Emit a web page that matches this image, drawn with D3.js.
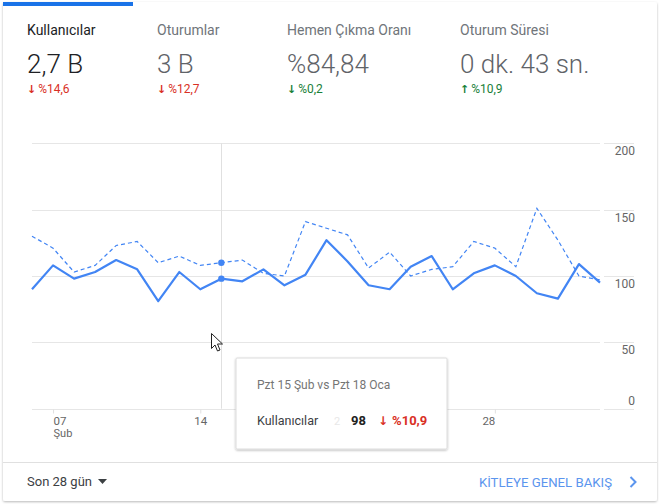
<!DOCTYPE html>
<html>
<head>
<meta charset="utf-8">
<script src="https://cdn.jsdelivr.net/npm/d3@7"></script>
<style>
  body { margin: 0; background: #fff; }
  svg { display: block; font-family: Roboto, "Noto Sans", sans-serif; }
</style>
</head>
<body>
<svg></svg>
<script>
// ---- data ----
const days = ["06 Şub","07 Şub","08 Şub","09 Şub","10 Şub","11 Şub","12 Şub","13 Şub","14 Şub",
  "15 Şub","16 Şub","17 Şub","18 Şub","19 Şub","20 Şub","21 Şub","22 Şub","23 Şub","24 Şub",
  "25 Şub","26 Şub","27 Şub","28 Şub","01 Mar","02 Mar","03 Mar","04 Mar","05 Mar"];
const current = [90,108,98,103,112,105,81,103,90,98,96,105,93,101,127,111,93,90,107,115,90,102,108,100,87,83,109,95];
const previous = [130,121,103,108,123,126,110,115,108,110,112,102,100,141,136,131,106,118,100,105,107,126,121,107,151,127,100,97];
const yTicks = [0, 50, 100, 150, 200];
const xTicks = ["07 Şub", "14 Şub", "21 Şub", "28 Şub"];

const metricNames = ["Kullanıcılar", "Oturumlar", "Hemen Çıkma Oranı", "Oturum Süresi"];
const metricValues = ["2,7 B", "3 B", "%84,84", "0 dk. 43 sn."];
const metricChanges = ["%14,6", "%12,7", "%0,2", "%10,9"];
const metricDown = [true, true, true, false];
const metricGood = [false, false, true, true];

const hoverIndex = 9;
const tipTitle = "Pzt 15 Şub vs Pzt 18 Oca";
const tipMetric = "Kullanıcılar";
const tipChange = "%10,9";

const size = {w: 664, h: 504};
const blue = '#4285f4', red = '#d93025', green = '#188038';

const svg = d3.select('svg').attr('width', size.w).attr('height', size.h);

// shadow filter
const defs = svg.append('defs');
const f = defs.append('filter').attr('id', 'shadow').attr('x', '-10%').attr('y', '-10%').attr('width', '120%').attr('height', '130%');
f.append('feDropShadow').attr('dx', 0).attr('dy', 1).attr('stdDeviation', 1.2).attr('flood-color', '#000').attr('flood-opacity', 0.28);

// card
svg.append('rect')
  .attr('x', 3).attr('y', 2).attr('width', 654).attr('height', 499).attr('rx', 2)
  .attr('fill', '#fff').attr('filter', 'url(#shadow)');
svg.append('rect')
  .attr('x', 3).attr('y', 2).attr('width', 130).attr('height', 4).attr('fill', '#1a73e8');

// ---- metrics header ----
const colX = [27, 157, 287, 460];
const metricG = svg.append('g').selectAll('g')
  .data(metricNames)
  .join('g')
  .attr('transform', (d, i) => `translate(${colX[i]},0)`);

metricG.append('text')
  .attr('y', 35)
  .attr('font-size', 14)
  .attr('fill', (d, i) => i === 0 ? '#202124' : '#70757a')
  .text(d => d);

metricG.append('text')
  .attr('y', 73)
  .attr('font-size', 26)
  .attr('font-weight', 300)
  .attr('fill', (d, i) => i === 0 ? '#202124' : '#5f6368')
  .text((d, i) => metricValues[i]);

const chg = metricG.append('text')
  .attr('y', 93)
  .attr('font-size', 12)
  .attr('fill', (d, i) => metricGood[i] ? green : red);
chg.append('tspan')
  .attr('font-family', 'DejaVu Sans')
  .attr('font-weight', 'bold')
  .attr('font-size', 11)
  .text((d, i) => metricDown[i] ? '↓' : '↑');
chg.append('tspan')
  .attr('dx', 2)
  .text((d, i) => metricChanges[i]);

// ---- chart ----
const x = d3.scalePoint().domain(days).range([32, 600]);
const y = d3.scaleLinear().domain([0, 200]).range([408.7, 143.3]);

// tooltip box position (the tooltip hides what is under it)
const tipBox = {x: 236, y: 358, w: 211, h: 91};

// gridlines
const grid = svg.append('g').attr('stroke', '#e6e6e6').attr('stroke-width', 1);
grid.selectAll('line.g')
  .data(yTicks)
  .join('line').classed('g', true)
  .attr('x1', 32).attr('x2', 600)
  .attr('y1', d => Math.round(y(d)) + 0.5).attr('y2', d => Math.round(y(d)) + 0.5);
grid.selectAll('line.s')
  .data(yTicks)
  .join('line').classed('s', true)
  .attr('x1', 604).attr('x2', 634)
  .attr('y1', d => Math.round(y(d)) + 0.5).attr('y2', d => Math.round(y(d)) + 0.5);

// y axis labels (right)
const yAxis = svg.append('g')
  .attr('transform', 'translate(635,0)')
  .call(d3.axisRight(y).tickValues(yTicks).tickSize(0));
yAxis.select('.domain').remove();
yAxis.selectAll('text')
  .attr('x', 0)
  .attr('text-anchor', 'end')
  .attr('dy', d => d === 0 ? '-0.35em' : '0.95em')
  .attr('font-size', 12)
  .attr('font-family', 'Roboto')
  .attr('fill', '#666');

// x axis
const xAxis = svg.append('g')
  .attr('transform', 'translate(0,' + (Math.round(y(0)) + 0.5) + ')')
  .call(d3.axisBottom(x).tickValues(xTicks).tickSize(4).tickPadding(3).tickFormat(d => d.slice(0, 2)));
xAxis.select('.domain').remove();
xAxis.selectAll('line').attr('stroke', '#e0e0e0');
xAxis.selectAll('text')
  .attr('font-size', 11.5)
  .attr('font-family', 'Roboto')
  .attr('fill', '#666')
  .attr('text-anchor', (d, i) => i === 0 ? 'start' : (i === xTicks.length - 1 ? 'end' : 'middle'));
// labels under the tooltip are not visible
xAxis.selectAll('.tick')
  .filter(d => x(d) > tipBox.x && x(d) < tipBox.x + tipBox.w)
  .select('text').remove();
// month name under the first tick
xAxis.selectAll('.tick').filter((d, i) => i === 0)
  .append('text')
  .attr('y', 20).attr('dy', '0.71em')
  .attr('font-size', 11)
  .attr('font-family', 'Roboto')
  .attr('fill', '#666')
  .attr('text-anchor', 'start')
  .text(d => d.slice(3));

// hover line
svg.append('line')
  .attr('x1', Math.round(x(days[hoverIndex])) + 0.5).attr('x2', Math.round(x(days[hoverIndex])) + 0.5)
  .attr('y1', y(200)).attr('y2', y(0))
  .attr('stroke', '#e0e0e0');

// lines
const line = d3.line().x((d, i) => x(days[i])).y(d => y(d));
svg.append('path')
  .datum(previous)
  .attr('d', line)
  .attr('fill', 'none')
  .attr('stroke', blue)
  .attr('stroke-width', 1.2)
  .attr('stroke-dasharray', '4,3');
svg.append('path')
  .datum(current)
  .attr('d', line)
  .attr('fill', 'none')
  .attr('stroke', blue)
  .attr('stroke-width', 2.2)
  .attr('stroke-linejoin', 'round');

// hover dots
svg.selectAll('circle.hover')
  .data([previous[hoverIndex], current[hoverIndex]])
  .join('circle').classed('hover', true)
  .attr('cx', x(days[hoverIndex]))
  .attr('cy', d => y(d))
  .attr('r', 3.2)
  .attr('fill', blue);

// mouse cursor
svg.append('path')
  .attr('transform', 'translate(211.5,333.5)')
  .attr('d', 'M0,0 L0,15 L3.5,11.5 L6,17.5 L8.5,16.5 L6,10.5 L11,10.5 Z')
  .attr('fill', '#fff')
  .attr('stroke', '#222')
  .attr('stroke-width', 1)
  .attr('stroke-linejoin', 'round');

// tooltip
const tip = svg.append('g').attr('transform', `translate(${tipBox.x},${tipBox.y})`);
tip.append('rect')
  .attr('width', tipBox.w).attr('height', tipBox.h).attr('rx', 1)
  .attr('fill', '#fff').attr('stroke', '#dcdcdc').attr('filter', 'url(#shadow)');
tip.append('text')
  .attr('x', 21).attr('y', 31)
  .attr('font-size', 12).attr('fill', '#757575')
  .text(tipTitle);
tip.append('text')
  .attr('x', 21).attr('y', 67)
  .attr('font-size', 12.5).attr('fill', '#3c4043')
  .text(tipMetric);
tip.append('text')
  .attr('x', 98).attr('y', 67)
  .attr('font-size', 11).attr('fill', '#e8e8e8')
  .text('2');
tip.append('text')
  .attr('x', 130).attr('y', 67)
  .attr('text-anchor', 'end')
  .attr('font-size', 13).attr('font-weight', 'bold').attr('fill', '#212121')
  .text(current[hoverIndex]);
const tipChg = tip.append('text')
  .attr('x', 142).attr('y', 67)
  .attr('font-size', 13).attr('font-weight', 'bold').attr('fill', red);
tipChg.append('tspan').attr('font-family', 'DejaVu Sans').attr('font-size', 12).text('↓');
tipChg.append('tspan').attr('dx', 4).text(tipChange);

// ---- footer ----
svg.append('line')
  .attr('x1', 3).attr('x2', 657).attr('y1', 462.5).attr('y2', 462.5)
  .attr('stroke', '#e0e0e0');
svg.append('text')
  .attr('x', 27).attr('y', 486)
  .attr('font-size', 13).attr('fill', '#3c4043')
  .text('Son 28 gün');
svg.append('path')
  .attr('d', 'M98,479 L107,479 L102.5,484 Z')
  .attr('fill', '#3c4043');
svg.append('text')
  .attr('x', 612).attr('y', 487)
  .attr('text-anchor', 'end')
  .attr('font-size', 13.2).attr('fill', '#5b95ee')
  .text('KİTLEYE GENEL BAKIŞ');
svg.append('path')
  .attr('d', 'M630.5,477 L635.5,482 L630.5,487')
  .attr('fill', 'none').attr('stroke', '#5b95ee').attr('stroke-width', 2);
</script>
</body>
</html>
